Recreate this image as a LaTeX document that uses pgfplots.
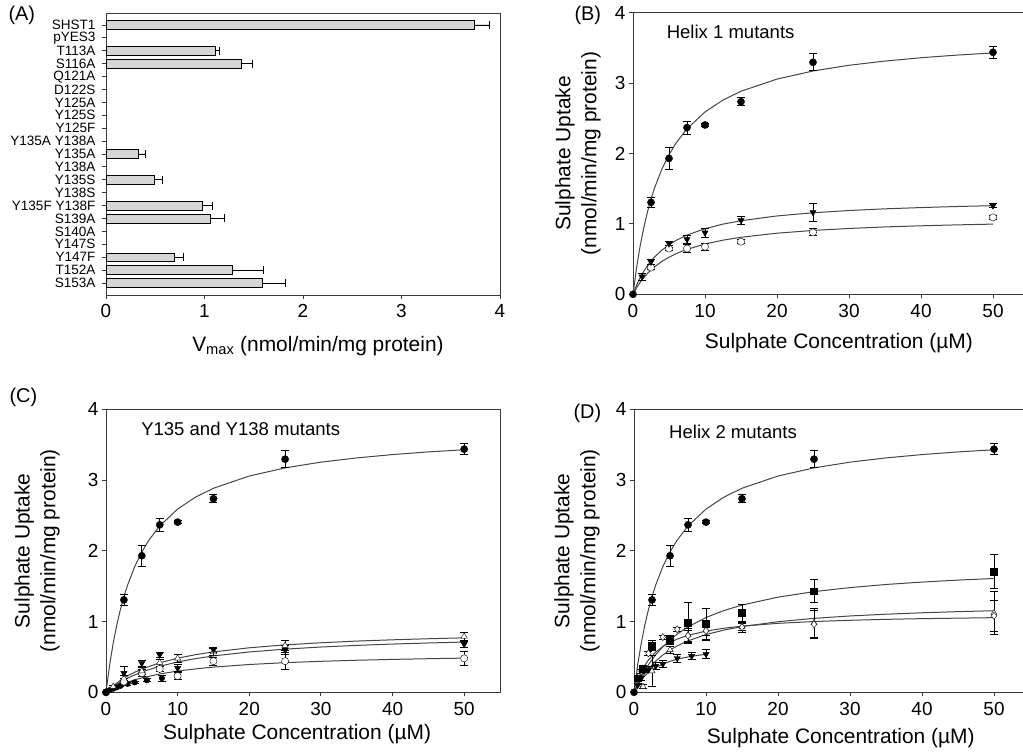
\documentclass[border=0pt]{standalone}
\usepackage{fontspec}
\setmainfont{Liberation Sans}
\usepackage{pgfplots}
\usepackage{pgfplotstable}
\pgfplotsset{compat=1.18}
\definecolor{axisgray}{HTML}{3A3A3A}
\definecolor{curvegray}{HTML}{454545}
\definecolor{bargray}{HTML}{D6D6D6}

% wild-type SHST1, identical in B, C and D
\pgfplotstableread{
c    v     e
0    0     0
2.5  1.306 0.076
5    1.93  0.15
7.5  2.367 0.095
10   2.405 0.02
15   2.736 0.055
25   3.295 0.12
50   3.437 0.08
}\shstpts
\pgfplotstableread{
c    v
0    0
0.5  0.381
1    0.691
1.5  0.948
2    1.166
2.5  1.351
3    1.512
4    1.776
5    1.984
6    2.152
7.5  2.351
10   2.590
12.5 2.759
15   2.884
20   3.057
25   3.172
30   3.253
35   3.313
40   3.360
45   3.398
50   3.428
}\shstfit

\pgfplotsset{
  kin/.style={
    scale only axis, width=396bp, height=283bp,
    xmin=0, xmax=55, ymin=0, ymax=4,
    xtick={0,10,...,50}, ytick={0,1,2,3,4},
    tick align=outside, xtick pos=left, ytick pos=left,
    major tick length=4bp,
    axis line style={axisgray, line width=0.9bp},
    tick style={axisgray, line width=0.9bp},
    tick label style={font=\fontsize{19}{22}\selectfont},
    xticklabel style={yshift=-2bp},
    /pgf/number format/assume math mode=true,
    label style={font=\fontsize{21}{26}\selectfont},
    xlabel={Sulphate Concentration (µM)},
    ylabel={Sulphate Uptake\\(nmol/min/mg protein)},
    ylabel style={align=center},
    clip=false,
  },
  fit/.style={curvegray, line width=1bp, no marks},
  pts/.style={only marks, black, mark size=3.6bp,
    error bars/y dir=both, error bars/y explicit,
    error bars/error bar style={line width=0.8bp, black},
    error bars/error mark options={rotate=90, mark size=4bp, line width=0.8bp, black}},
}

\begin{document}
\begin{tikzpicture}

% (A) Vmax bars
\begin{axis}[
  at={(106bp,458bp)}, anchor=south west,
  scale only axis, width=394bp, height=282bp,
  xbar, bar width=8.7bp, bar shift=0pt,
  xmin=0, xmax=4, ymin=-0.93, ymax=20.93, y dir=reverse,
  xtick={0,...,4}, ytick={0,...,20},
  yticklabels={SHST1,pYES3,T113A,S116A,Q121A,D122S,Y125A,Y125S,Y125F,Y135A Y138A,Y135A,Y138A,Y135S,Y138S,Y135F Y138F,S139A,S140A,Y147S,Y147F,T152A,S153A},
  tick align=outside, xtick pos=left, ytick pos=left,
  major tick length=4bp,
  axis line style={axisgray, line width=0.9bp},
  tick style={axisgray, line width=0.9bp},
  xticklabel style={font=\fontsize{19}{22}\selectfont, yshift=-2bp},
  yticklabel style={font=\fontsize{13.6}{15}\selectfont, xshift=-3bp},
  /pgf/number format/assume math mode=true,
  xlabel={V\textsubscript{max} (nmol/min/mg protein)},
  xlabel style={font=\fontsize{21}{26}\selectfont, at={(axis description cs:0.538,-0.181)}, anchor=center},
  clip=false,
]
\addplot[fill=bargray, draw=black, line width=0.6bp,
  error bars/x dir=plus, error bars/x explicit,
  error bars/error bar style={line width=0.8bp, black},
  error bars/error mark options={rotate=90, mark size=4bp, line width=0.8bp, black}]
  coordinates {
  (3.74,0) +- (0.15,0)
  (1.107,2) +- (0.045,0)
  (1.378,3) +- (0.11,0)
  (0.325,10) +- (0.075,0)
  (0.487,12) +- (0.088,0)
  (0.978,14) +- (0.105,0)
  (1.056,15) +- (0.144,0)
  (0.697,18) +- (0.088,0)
  (1.286,19) +- (0.308,0)
  (1.584,20) +- (0.241,0)
};
\end{axis}

% (B) Helix 1 mutants
\begin{axis}[kin,
  at={(633bp,458.7bp)}, anchor=south west, height=281.6bp,
  xlabel style={at={(axis description cs:0.52,-0.173)}, anchor=center},
  ylabel style={at={(axis description cs:-0.139,0.5)}, anchor=center},
]
\addplot[fit] table[x=c, y=v] {\shstfit};
\addplot[fit] coordinates {
  (0,0) (0.5,0.130) (1,0.238) (1.5,0.329) (2,0.406) (2.5,0.473) (3,0.531)
  (4,0.627) (5,0.704) (6,0.767) (7.5,0.841) (10,0.932) (12.5,0.997)
  (15,1.045) (20,1.113) (25,1.158) (30,1.190) (35,1.214) (40,1.232)
  (45,1.247) (50,1.259)
};
\addplot[fit] coordinates {
  (0,0) (0.5,0.092) (1,0.170) (1.5,0.237) (2,0.295) (2.5,0.346) (3,0.391)
  (4,0.466) (5,0.527) (6,0.578) (7.5,0.639) (10,0.714) (12.5,0.769)
  (15,0.810) (20,0.868) (25,0.907) (30,0.935) (35,0.957) (40,0.973)
  (45,0.986) (50,0.997)
};
\addplot[pts, mark=*, mark options={fill=white}] coordinates {
  (2.5,0.38) +- (0,0.02) (5,0.65) +- (0,0.02) (7.5,0.65) +- (0,0.06)
  (10,0.676) +- (0,0.05) (15,0.747) +- (0,0.03) (25,0.88) +- (0,0.05)
  (50,1.093) +- (0,0.03)
};
\addplot[pts, mark=triangle*, mark options={rotate=180}] coordinates {
  (1.25,0.25) +- (0,0.05) (2.5,0.46) +- (0,0.04) (5,0.72) +- (0,0.03)
  (7.5,0.78) +- (0,0.06) (10,0.875) +- (0,0.06) (15,1.05) +- (0,0.06)
  (25,1.165) +- (0,0.13) (50,1.259) +- (0,0.03)
};
\addplot[pts, mark=*] table[x=c, y=v, y error=e] {\shstpts};
\node[anchor=west, font=\fontsize{18.6}{22}\selectfont] at (axis cs:4.2,3.73) {Helix 1 mutants};
\end{axis}

% (C) Y135 and Y138 mutants
\begin{axis}[kin,
  at={(106bp,60.7bp)}, anchor=south west, width=394bp,
  xlabel style={at={(axis description cs:0.485,-0.147)}, anchor=center},
  ylabel style={at={(axis description cs:-0.175,0.5)}, anchor=center},
]
\addplot[fit] table[x=c, y=v] {\shstfit};
\addplot[fit] coordinates {
  (0,0) (0.5,0.049) (1,0.093) (2,0.168) (3,0.231) (4,0.283) (5,0.329)
  (7.5,0.417) (10,0.482) (12.5,0.532) (15,0.571) (20,0.629) (25,0.670)
  (30,0.700) (35,0.724) (40,0.742) (45,0.757) (50,0.770)
};
\addplot[fit] coordinates {
  (0,0) (0.5,0.041) (1,0.079) (2,0.144) (3,0.199) (4,0.246) (5,0.287)
  (7.5,0.368) (10,0.429) (12.5,0.476) (15,0.514) (20,0.570) (25,0.610)
  (30,0.640) (35,0.663) (40,0.682) (45,0.697) (50,0.710)
};
\addplot[fit] coordinates {
  (0,0) (0.5,0.030) (1,0.057) (2,0.104) (3,0.143) (4,0.175) (5,0.204)
  (7.5,0.259) (10,0.300) (12.5,0.331) (15,0.356) (20,0.393) (25,0.419)
  (30,0.438) (35,0.453) (40,0.465) (45,0.475) (50,0.483)
};
\addplot[pts, mark=*, mark size=2.8bp] coordinates {
  (0.5,0.03) +- (0,0) (1,0.05) +- (0,0) (1.5,0.07) +- (0,0) (2,0.09) +- (0,0)
  (3,0.12) +- (0,0.02) (4,0.14) +- (0,0.02) (5.7,0.17) +- (0,0.02)
  (7.8,0.2) +- (0,0.04)
};
\addplot[pts, mark=*, mark options={fill=white}] coordinates {
  (0,0) +- (0,0) (2.5,0.15) +- (0,0.04) (5,0.27) +- (0,0.05)
  (7.5,0.33) +- (0,0.04) (10,0.23) +- (0,0.05) (15,0.44) +- (0,0.06)
  (25,0.44) +- (0,0.12) (50,0.48) +- (0,0.1)
};
\addplot[pts, mark=triangle*, mark options={fill=white}] coordinates {
  (1,0.08) +- (0,0.02) (2.5,0.2) +- (0,0.04) (5,0.3) +- (0,0.05)
  (7.5,0.42) +- (0,0.05) (10,0.48) +- (0,0.06) (15,0.57) +- (0,0.05)
  (25,0.66) +- (0,0.07) (50,0.79) +- (0,0.05)
};
\addplot[pts, mark=triangle*, mark options={rotate=180}] coordinates {
  (2.5,0.27) +- (0,0.1) (5,0.41) +- (0,0.04) (7.5,0.53) +- (0,0.04)
  (10,0.34) +- (0,0.05) (15,0.6) +- (0,0.04) (25,0.6) +- (0,0.06)
  (50,0.68) +- (0,0.04)
};
\addplot[pts, mark=*] table[x=c, y=v, y error=e] {\shstpts};
\node[anchor=west, font=\fontsize{18.6}{22}\selectfont] at (axis cs:4.43,3.73) {Y135 and Y138 mutants};
\end{axis}

% (D) Helix 2 mutants
\begin{axis}[kin,
  at={(634bp,60.7bp)}, anchor=south west,
  xlabel style={at={(axis description cs:0.522,-0.161)}, anchor=center},
  ylabel style={at={(axis description cs:-0.144,0.5)}, anchor=center},
]
\addplot[fit] table[x=c, y=v] {\shstfit};
\addplot[fit] coordinates {
  (0,0) (0.5,0.116) (1,0.218) (1.5,0.308) (2,0.389) (3,0.529) (4,0.643)
  (5,0.740) (6,0.822) (7.5,0.925) (10,1.057) (12.5,1.156) (15,1.233)
  (20,1.345) (25,1.423) (30,1.480) (35,1.524) (40,1.558) (45,1.586) (50,1.609)
};
\addplot[fit] coordinates {
  (0,0) (0.5,0.103) (1,0.190) (1.5,0.266) (2,0.331) (3,0.440) (4,0.527)
  (5,0.598) (6,0.656) (7.5,0.727) (10,0.816) (12.5,0.880) (15,0.929)
  (20,0.998) (25,1.045) (30,1.079) (35,1.104) (40,1.124) (45,1.140) (50,1.153)
};
\addplot[fit] coordinates {
  (0,0) (0.5,0.164) (1,0.286) (1.5,0.380) (2,0.456) (3,0.567) (4,0.647)
  (5,0.706) (6,0.752) (7.5,0.805) (10,0.865) (12.5,0.906) (15,0.935)
  (20,0.975) (25,1.000) (30,1.018) (35,1.031) (40,1.041) (45,1.048) (50,1.055)
};
\addplot[fit] coordinates {
  (0,0) (0.5,0.100) (1,0.175) (1.5,0.233) (2,0.280) (3,0.350) (4,0.400)
  (5,0.438) (6,0.467) (7,0.490) (8,0.509) (10,0.538)
};
\addplot[pts, mark=triangle*, mark options={fill=white}] coordinates {
  (0.5,0.1) +- (0,0.02) (1.25,0.08) +- (0,0.03) (2.5,0.3) +- (0,0.22)
  (5,0.6) +- (0,0.05) (7.5,0.81) +- (0,0.1) (10,0.88) +- (0,0.14)
  (15,0.93) +- (0,0.05) (25,0.98) +- (0,0.2) (50,1.12) +- (0,0.3)
};
\addplot[pts, mark=diamond*, mark options={fill=white}] coordinates {
  (0.5,0.2) +- (0,0.02) (1,0.3) +- (0,0.03) (2,0.55) +- (0,0.03)
  (4,0.78) +- (0,0.03) (6,0.89) +- (0,0.03) (7.5,0.8) +- (0,0.08)
  (10,0.87) +- (0,0.07) (15,0.92) +- (0,0.07) (25,0.96) +- (0,0.2)
  (50,1.08) +- (0,0.22)
};
\addplot[pts, mark=triangle*, mark options={rotate=180}] coordinates {
  (0.5,0.1) +- (0,0.02) (1,0.2) +- (0,0.03) (2,0.32) +- (0,0.04)
  (3,0.37) +- (0,0.05) (4,0.4) +- (0,0.05) (6,0.48) +- (0,0.06)
  (8,0.51) +- (0,0.05) (10,0.54) +- (0,0.06)
};
\addplot[pts, mark=square*, mark size=3.4bp] coordinates {
  (0.5,0.2) +- (0,0.03) (1.25,0.33) +- (0,0.05) (2.5,0.66) +- (0,0.07)
  (5,0.74) +- (0,0.07) (7.5,0.98) +- (0,0.29) (10,0.97) +- (0,0.22)
  (15,1.12) +- (0,0.12) (25,1.43) +- (0,0.16) (50,1.71) +- (0,0.24)
};
\addplot[pts, mark=*] table[x=c, y=v, y error=e] {\shstpts};
\node[anchor=west, font=\fontsize{18.6}{22}\selectfont] at (axis cs:4.4,3.68) {Helix 2 mutants};
\end{axis}

% panel letters
\node[anchor=west, font=\fontsize{20}{24}\selectfont] at (5bp,738bp) {(A)};
\node[anchor=west, font=\fontsize{20}{24}\selectfont] at (571bp,738bp) {(B)};
\node[anchor=west, font=\fontsize{20}{24}\selectfont] at (6bp,356bp) {(C)};
\node[anchor=west, font=\fontsize{20}{24}\selectfont] at (570bp,340bp) {(D)};

\pgfresetboundingbox
\useasboundingbox (0,0) rectangle (1023bp,753bp);
\end{tikzpicture}
\end{document}
